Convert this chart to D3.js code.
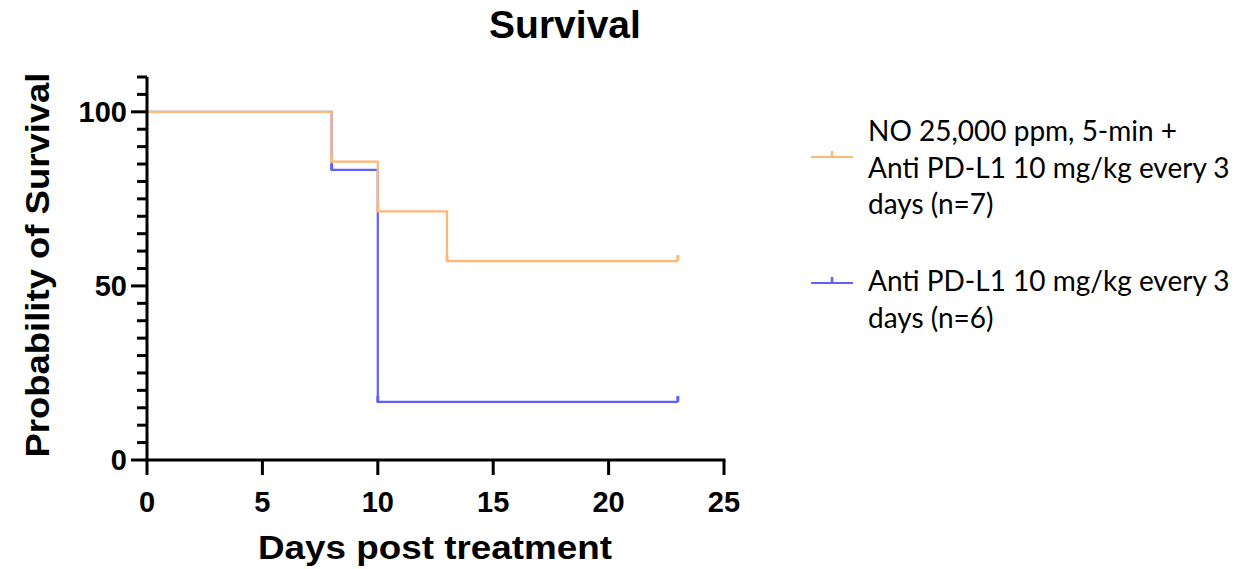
<!DOCTYPE html>
<html>
<head>
<meta charset="UTF-8">
<title>Survival</title>
<script src="https://d3js.org/d3.v7.min.js"></script>
<style>
  body { margin: 0; background: #fff; }
  svg text { fill: #000; }
</style>
</head>
<body>
<svg width="1245" height="569"></svg>
<script>
const width = 1245;
const height = 569;
const margin = {top: 77, left: 147, bottom: 109, right: 521};

// Kaplan-Meier steps
const comboDays = [0, 8, 10, 13, 23];
const comboSurv = [100, 85.71, 71.43, 57.14, 57.14];
const antiDays = [0, 8, 10, 23];
const antiSurv = [100, 83.33, 16.67, 16.67];

const xTicks = [0, 5, 10, 15, 20, 25];
const yMajor = [0, 50, 100];
const yMinor = d3.range(0, 111, 5);

const series = [
  {name: 'anti', days: antiDays, surv: antiSurv, color: '#6060ff',
   label: ['Anti PD-L1 10 mg/kg every 3', 'days (n=6)']},
  {name: 'combo', days: comboDays, surv: comboSurv, color: '#ffb774',
   label: ['NO 25,000 ppm, 5-min +', 'Anti PD-L1 10 mg/kg every 3', 'days (n=7)']}
];

const x = d3.scaleLinear().domain([0, 25]).range([margin.left, 724]);
const y = d3.scaleLinear().domain([0, 110]).range([height - margin.bottom, margin.top]);

const svg = d3.select('svg');

// curves
const line = d3.line().curve(d3.curveStepAfter).x(d => x(d[0])).y(d => y(d[1]));
series.forEach(s => {
  const pts = s.days.map((d, i) => [d, s.surv[i]]);
  svg.append('path')
    .attr('d', line(pts))
    .attr('fill', 'none')
    .attr('stroke', s.color)
    .attr('stroke-width', 2.2);
  // censor / step markers
  svg.append('g').selectAll('line').data(pts.slice(1)).join('line')
    .attr('x1', d => x(d[0])).attr('x2', d => x(d[0]))
    .attr('y1', d => y(d[1])).attr('y2', d => y(d[1]) - 6)
    .attr('stroke', s.color)
    .attr('stroke-width', 3);
});

// y axis
const yAxis = svg.append('g').attr('transform', `translate(${margin.left},0)`);
yAxis.append('line')
  .attr('x1', 0).attr('x2', 0).attr('y1', y(0) + 1.5).attr('y2', y(110))
  .attr('stroke', '#000').attr('stroke-width', 3);
yAxis.selectAll('.minor').data(yMinor).join('line')
  .attr('x1', 0).attr('x2', d => yMajor.includes(d) ? -16 : -10)
  .attr('y1', d => y(d)).attr('y2', d => y(d))
  .attr('stroke', '#000').attr('stroke-width', 3);
yAxis.selectAll('text').data(yMajor).join('text')
  .attr('x', -20).attr('y', d => y(d))
  .attr('dy', '0.36em')
  .attr('text-anchor', 'end')
  .style('font', 'bold 29px "Liberation Sans", Arial, sans-serif')
  .text(d => d);

// x axis
const xAxis = svg.append('g').attr('transform', `translate(0,${y(0)})`);
xAxis.append('line')
  .attr('x1', x(0) - 1.5).attr('x2', x(25) + 1.5).attr('y1', 0).attr('y2', 0)
  .attr('stroke', '#000').attr('stroke-width', 3);
xAxis.selectAll('.tick').data(xTicks).join('line')
  .attr('x1', d => x(d)).attr('x2', d => x(d))
  .attr('y1', 0).attr('y2', 15)
  .attr('stroke', '#000').attr('stroke-width', 3);
xAxis.selectAll('text').data(xTicks).join('text')
  .attr('x', d => x(d)).attr('y', 52)
  .attr('text-anchor', 'middle')
  .style('font', 'bold 29px "Liberation Sans", Arial, sans-serif')
  .text(d => d);

// titles
svg.append('text')
  .attr('x', 565).attr('y', 38)
  .attr('text-anchor', 'middle')
  .style('font', 'bold 39px "Liberation Sans", Arial, sans-serif')
  .text('Survival');

svg.append('text')
  .attr('transform', `translate(49,265) rotate(-90)`)
  .attr('text-anchor', 'middle')
  .attr('textLength', 385).attr('lengthAdjust', 'spacingAndGlyphs')
  .style('font', 'bold 34px "Liberation Sans", Arial, sans-serif')
  .text('Probability of Survival');

svg.append('text')
  .attr('x', 435).attr('y', 559)
  .attr('text-anchor', 'middle')
  .attr('textLength', 354).attr('lengthAdjust', 'spacingAndGlyphs')
  .style('font', 'bold 34px "Liberation Sans", Arial, sans-serif')
  .text('Days post treatment');

// legend
const legendItems = [series[1], series[0]];
const legendY = [157, 283];
const legend = svg.append('g');
legendItems.forEach((s, i) => {
  const g = legend.append('g').attr('transform', `translate(0,${legendY[i]})`);
  g.append('line').attr('x1', 811).attr('x2', 853).attr('y1', 0).attr('y2', 0)
    .attr('stroke', s.color).attr('stroke-width', 2.2);
  g.append('line').attr('x1', 832).attr('x2', 832).attr('y1', 0).attr('y2', -6)
    .attr('stroke', s.color).attr('stroke-width', 2.5);
  const first = s.label.length === 3 ? -16 : 8;
  g.selectAll('text').data(s.label).join('text')
    .attr('x', 868)
    .attr('y', (d, j) => first + j * 36.5)
    .style('font', '28px Lato, "Open Sans", sans-serif')
    .text(d => d);
});
</script>
</body>
</html>
